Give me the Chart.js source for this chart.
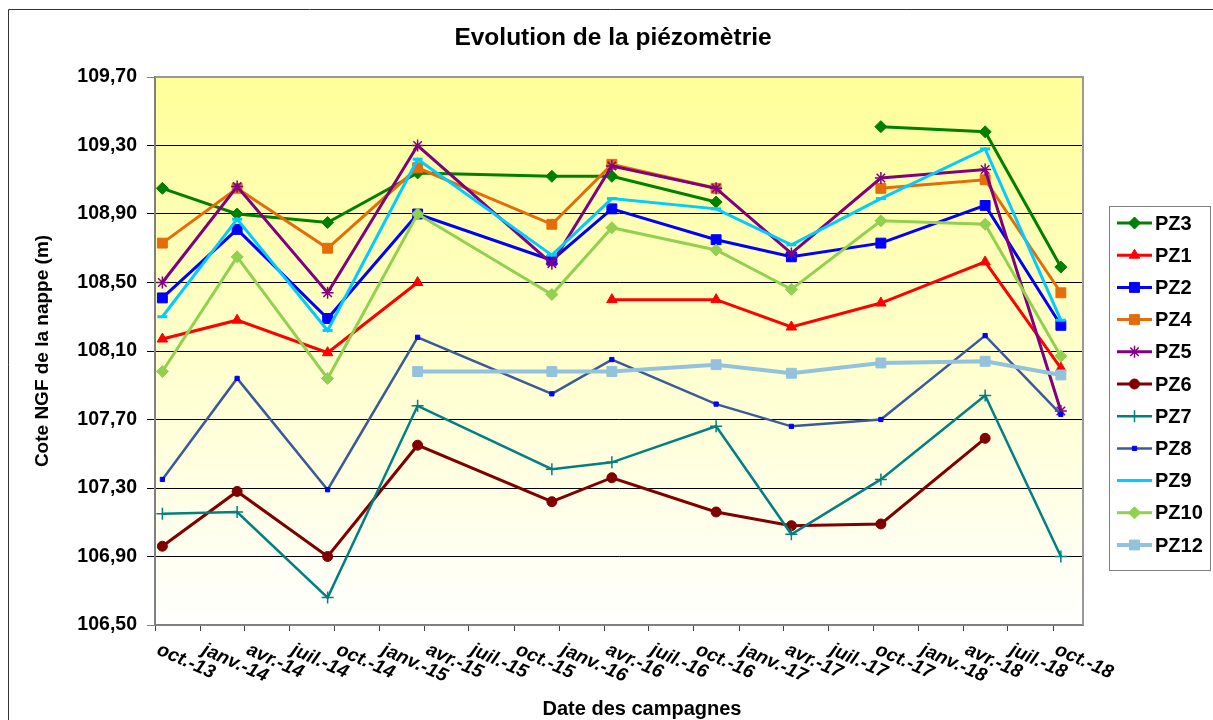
<!DOCTYPE html>
<html>
<head>
<meta charset="utf-8">
<title>Evolution de la piézomètrie</title>
<script src="https://cdn.jsdelivr.net/npm/chart.js@4.4.1/dist/chart.umd.min.js"></script>
<style>
  html, body { margin: 0; padding: 0; background: #fff; }
  #wrap { width: 1213px; height: 720px; position: relative; }
</style>
</head>
<body>
<div id="wrap"><canvas id="chart"></canvas></div>
<script>
// dates des campagnes
const campaignDates = ["2013-10-16", "2014-03-17", "2014-09-17", "2015-03-19", "2015-12-17", "2016-04-17",
  "2016-11-15", "2017-04-17", "2017-10-16", "2018-05-16", "2018-10-17"];

// cotes NGF (m) par piézomètre
const pz3 = [109.05, 108.90, 108.85, 109.14, 109.12, 109.12, 108.97, null, 109.41, 109.38, 108.59];
const pz1 = [108.17, 108.28, 108.09, 108.50, null, 108.40, 108.40, 108.24, 108.38, 108.62, 108.00];
const pz2 = [108.41, 108.81, 108.29, 108.90, 108.63, 108.93, 108.75, 108.65, 108.73, 108.95, 108.25];
const pz4 = [108.73, 109.05, 108.70, 109.17, 108.84, 109.19, 109.05, null, 109.05, 109.10, 108.44];
const pz5 = [108.50, 109.06, 108.44, 109.30, 108.61, 109.18, 109.05, 108.67, 109.11, 109.16, 107.75];
const pz6 = [106.96, 107.28, 106.90, 107.55, 107.22, 107.36, 107.16, 107.08, 107.09, 107.59, null];
const pz7 = [107.15, 107.16, 106.66, 107.78, 107.41, 107.45, 107.66, 107.03, 107.35, 107.84, 106.90];
const pz8 = [107.35, 107.94, 107.29, 108.18, 107.85, 108.05, 107.79, 107.66, 107.70, 108.19, 107.73];
const pz9 = [108.30, 108.87, 108.22, 109.22, 108.66, 108.99, 108.93, 108.72, 108.99, 109.28, 108.28];
const pz10 = [107.98, 108.65, 107.94, 108.90, 108.43, 108.82, 108.69, 108.46, 108.86, 108.84, 108.07];
const pz12 = [null, null, null, 107.98, 107.98, 107.98, 108.02, 107.97, 108.03, 108.04, 107.96];

// axes
const yTicks = [106.5, 106.9, 107.3, 107.7, 108.1, 108.5, 108.9, 109.3, 109.7];
const tickDates = ["2013-10-01", "2014-01-01", "2014-04-01", "2014-07-01", "2014-10-01", "2015-01-01", "2015-04-01",
  "2015-07-01", "2015-10-01", "2016-01-01", "2016-04-01", "2016-07-01", "2016-10-01", "2017-01-01", "2017-04-01",
  "2017-07-01", "2017-10-01", "2018-01-01", "2018-04-01", "2018-07-01", "2018-10-01"];
const tickLabels = ["oct.-13", "janv.-14", "avr.-14", "juil.-14", "oct.-14", "janv.-15", "avr.-15",
  "juil.-15", "oct.-15", "janv.-16", "avr.-16", "juil.-16", "oct.-16", "janv.-17", "avr.-17",
  "juil.-17", "oct.-17", "janv.-18", "avr.-18", "juil.-18", "oct.-18"];

const FONT = '"Liberation Sans", Arial, sans-serif';
const origin = Date.UTC(2013, 9, 1);
function toDay(s) {
  const p = s.split("-").map(Number);
  return (Date.UTC(p[0], p[1] - 1, p[2]) - origin) / 86400000;
}

function serie(label, values, color, width, style, radius, extra) {
  return Object.assign({
    label: label,
    data: campaignDates.map((d, i) => ({ x: toDay(d), y: values[i] })),
    borderColor: color,
    backgroundColor: color,
    borderWidth: width,
    pointStyle: style,
    pointRadius: radius,
    pointBackgroundColor: color,
    pointBorderColor: color,
    pointBorderWidth: 1,
    spanGaps: false,
    tension: 0
  }, extra || {});
}

const datasets = [
  serie("PZ3", pz3, "#008000", 3, "rectRot", 6),
  serie("PZ1", pz1, "#FF0000", 3, "triangle", 6),
  serie("PZ2", pz2, "#0000FF", 3, "rect", 7),
  serie("PZ4", pz4, "#E46C0A", 3, "rect", 7),
  serie("PZ5", pz5, "#800080", 3, "star", 6, { pointBorderWidth: 1.5 }),
  serie("PZ6", pz6, "#800000", 3, "circle", 5),
  serie("PZ7", pz7, "#008080", 2.5, "cross", 6, { pointBorderWidth: 1.5 }),
  serie("PZ8", pz8, "#3A5A99", 2.5, "rect", 3, { pointBackgroundColor: "#0000FF", pointBorderColor: "#0000FF" }),
  serie("PZ9", pz9, "#00CCFF", 3, "line", 5, { pointBorderWidth: 3 }),
  serie("PZ10", pz10, "#92D050", 3, "rectRot", 6),
  serie("PZ12", pz12, "#93C3DC", 4, "rect", 7)
];
// les dernières séries passent au-dessus, comme dans Excel
datasets.forEach((ds, i) => { ds.order = datasets.length - i; });

const decor = {
  id: "decor",
  beforeDraw(chart) {
    const { ctx, chartArea: a } = chart;
    const g = ctx.createLinearGradient(0, a.top, 0, a.bottom);
    g.addColorStop(0, "#FFFF99");
    g.addColorStop(1, "#FFFFFF");
    ctx.save();
    ctx.fillStyle = g;
    ctx.fillRect(a.left, a.top, a.right - a.left, a.bottom - a.top);
    ctx.restore();
  },
  beforeDatasetsDraw(chart) {
    const { ctx, chartArea: a } = chart;
    ctx.save();
    ctx.strokeStyle = "#999";
    ctx.lineWidth = 2;
    ctx.beginPath();
    ctx.moveTo(a.left, a.top);
    ctx.lineTo(a.right, a.top);
    ctx.lineTo(a.right, a.bottom);
    ctx.stroke();
    ctx.restore();
  },
  afterDraw(chart) {
    const { ctx } = chart;
    const xs = chart.scales.x;
    ctx.save();

    // cadre extérieur
    ctx.strokeStyle = "#333";
    ctx.lineWidth = 1;
    ctx.beginPath();
    ctx.moveTo(8.5, 720);
    ctx.lineTo(8.5, 9.5);
    ctx.lineTo(1213, 9.5);
    ctx.stroke();

    // titre du graphique (centré sur toute la largeur, comme Excel)
    ctx.fillStyle = "#000";
    ctx.font = "bold 24.5px " + FONT;
    ctx.textAlign = "center";
    ctx.textBaseline = "middle";
    ctx.fillText("Evolution de la piézomètrie", 613, 38);

    // étiquettes de l'axe des dates, inclinées vers le bas
    ctx.font = "italic bold 19px " + FONT;
    ctx.textAlign = "left";
    tickLabels.forEach((lab, i) => {
      const px = xs.getPixelForValue(toDay(tickDates[i]));
      ctx.save();
      ctx.translate(px + 3, xs.top + 24);
      ctx.rotate(24 * Math.PI / 180);
      ctx.fillText(lab, 0, 0);
      ctx.restore();
    });

    // titre de l'axe X
    ctx.font = "bold 20px " + FONT;
    ctx.textAlign = "center";
    ctx.fillText("Date des campagnes", 642, 709);

    // légende
    const lx = 1109, ly = 206, lw = 101, lh = 364;
    ctx.fillStyle = "#fff";
    ctx.fillRect(lx, ly, lw, lh);
    ctx.strokeStyle = "#808080";
    ctx.lineWidth = 1;
    ctx.strokeRect(lx + 0.5, ly + 0.5, lw, lh);
    ctx.font = "bold 20px " + FONT;
    ctx.textAlign = "left";
    datasets.forEach((ds, i) => {
      const y = 223 + i * 32.2;
      ctx.strokeStyle = ds.borderColor;
      ctx.lineWidth = ds.borderWidth;
      ctx.beginPath();
      ctx.moveTo(1117, y);
      ctx.lineTo(1152, y);
      ctx.stroke();
      ctx.fillStyle = ds.pointBackgroundColor;
      ctx.strokeStyle = ds.pointBorderColor;
      ctx.lineWidth = ds.pointBorderWidth;
      if (Chart.helpers && Chart.helpers.drawPoint) {
        Chart.helpers.drawPoint(ctx, { pointStyle: ds.pointStyle, radius: ds.pointRadius, rotation: 0, borderWidth: ds.pointBorderWidth }, 1134.5, y);
      }
      ctx.fillStyle = "#000";
      ctx.fillText(ds.label, 1155, y + 1);
    });
    ctx.restore();
  }
};

Chart.defaults.font.family = FONT;

new Chart(document.getElementById("chart"), {
  type: "line",
  data: { datasets: datasets },
  options: {
    responsive: true,
    maintainAspectRatio: false,
    animation: false,
    layout: { padding: { top: 77, left: 10, right: 130, bottom: 0 } },
    plugins: {
      legend: { display: false },
      tooltip: { enabled: false },
      title: { display: false }
    },
    scales: {
      x: {
        type: "linear",
        min: 0,
        max: toDay("2018-12-01"),
        afterBuildTicks: (s) => { s.ticks = tickDates.map((d) => ({ value: toDay(d) })); },
        afterFit: (s) => { s.height = 95; },
        ticks: { display: false },
        grid: { drawOnChartArea: false, drawTicks: true, tickLength: 6, color: "#404040" },
        border: { color: "#808080", width: 2 }
      },
      y: {
        min: 106.5,
        max: 109.7,
        afterBuildTicks: (s) => { s.ticks = yTicks.map((v) => ({ value: v })); },
        afterFit: (s) => { s.width = 145; },
        ticks: {
          color: "#000",
          padding: 10,
          font: { size: 19.5, weight: "bold" },
          callback: (v) => Number(v).toFixed(2).replace(".", ",")
        },
        grid: {
          tickLength: 8,
          lineWidth: 1,
          color: (c) => (c.index === 0 || c.index === yTicks.length - 1) ? "#808080" : "#000"
        },
        border: { color: "#808080", width: 2 },
        title: {
          display: true,
          text: "Cote NGF de la nappe (m)",
          color: "#000",
          font: { size: 19, weight: "bold" },
          padding: { top: 21, bottom: 0 }
        }
      }
    }
  },
  plugins: [decor]
});
</script>
</body>
</html>
